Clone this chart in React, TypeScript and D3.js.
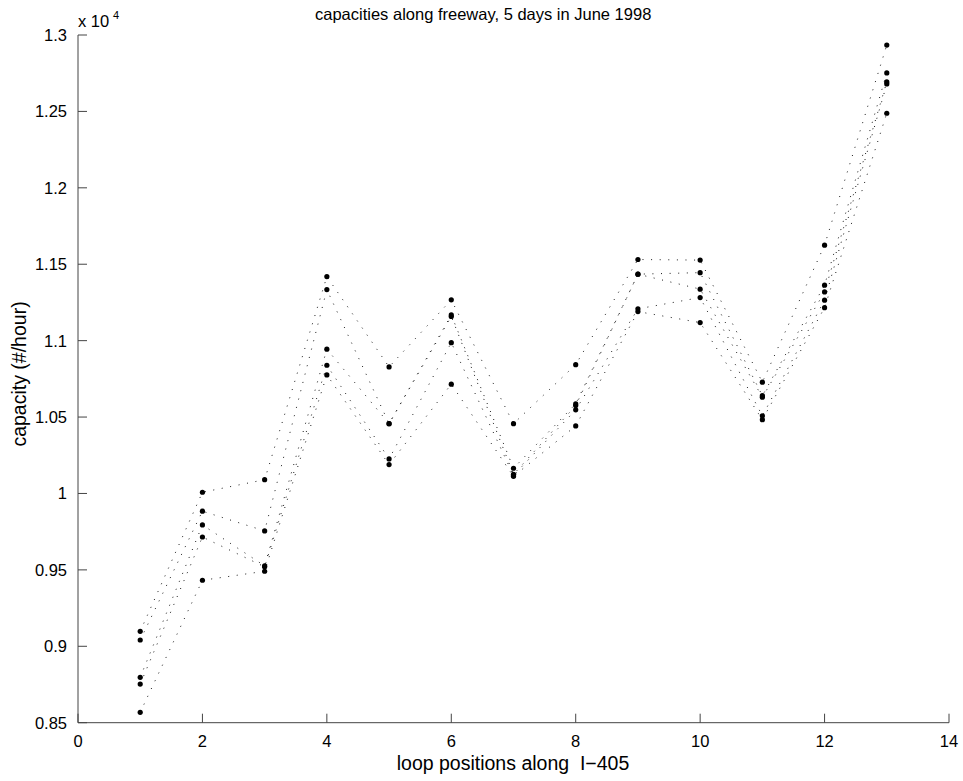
import React from "react";
import * as d3 from "d3";

const positions = [1, 2, 3, 4, 5, 6, 7, 8, 9, 10, 11, 12, 13];
const day1 = [9098, 10008, 10090, 11419, 10828, 11267, 10457, 10843, 11531, 11527, 10728, 11625, 12934];
const day2 = [9041, 9884, 9755, 11334, 10457, 11168, 10165, 10586, 11435, 11445, 10640, 11363, 12752];
const day3 = [8797, 9794, 9526, 10944, 10457, 11158, 10125, 10575, 11435, 11337, 10630, 11319, 12693];
const day4 = [8753, 9715, 9520, 10839, 10226, 10987, 10118, 10547, 11208, 11282, 10508, 11265, 12680];
const day5 = [8568, 9432, 9491, 10776, 10189, 10715, 10112, 10442, 11190, 11118, 10483, 11216, 12488];
const days = [day1, day2, day3, day4, day5];

const xTicks = [0, 2, 4, 6, 8, 10, 12, 14];
const yTicks = [8500, 9000, 9500, 10000, 10500, 11000, 11500, 12000, 12500, 13000];
const yTickLabels = ["0.85", "0.9", "0.95", "1", "1.05", "1.1", "1.15", "1.2", "1.25", "1.3"];

const titleText = "capacities along freeway, 5 days in June 1998";
const xLabel = "loop positions along  I\u2212405";
const yLabel = "capacity (#/hour)";

export default function App() {
  const W = 963;
  const H = 781;
  const left = 78, right = 949, top = 35, bottom = 722.7;
  const x = d3.scaleLinear().domain([0, 14]).range([left, right]);
  const y = d3.scaleLinear().domain([8500, 13000]).range([bottom, top]);
  const line = d3
    .line<number>()
    .x((_, i) => x(positions[i]))
    .y((d) => y(d));
  const font = "'Liberation Sans', Arial, Helvetica, sans-serif";
  const axisColor = "#444";
  const tickLen = 9;

  return (
    <svg
      width={W}
      height={H}
      style={{ position: "absolute", left: 0, top: 0, background: "#fff" }}
      fontFamily={font}
    >
      <rect x={0} y={0} width={W} height={H} fill="#fff" />
      {days.map((d, i) => (
        <path
          key={"l" + i}
          d={line(d) || ""}
          fill="none"
          stroke="#000"
          strokeWidth={0.9}
          strokeDasharray="1 7.6"
        />
      ))}
      {days.map((d, i) =>
        d.map((v, j) => (
          <circle key={`p${i}-${j}`} cx={x(positions[j])} cy={y(v)} r={2.6} fill="#000" />
        ))
      )}
      <line x1={left} y1={bottom} x2={right} y2={bottom} stroke={axisColor} strokeWidth={1} />
      <line x1={left} y1={bottom} x2={left} y2={top} stroke={axisColor} strokeWidth={1} />
      {xTicks.map((t) => (
        <g key={"xt" + t}>
          <line x1={x(t)} x2={x(t)} y1={bottom} y2={bottom - tickLen} stroke={axisColor} strokeWidth={1} />
          <text x={x(t)} y={747} fontSize={16.5} textAnchor="middle" fill="#000">
            {t}
          </text>
        </g>
      ))}
      {yTicks.map((t, i) => (
        <g key={"yt" + t}>
          <line x1={left} x2={left + tickLen} y1={y(t)} y2={y(t)} stroke={axisColor} strokeWidth={1} />
          <text x={67} y={y(t) + 6} fontSize={16.5} textAnchor="end" fill="#000">
            {yTickLabels[i]}
          </text>
        </g>
      ))}
      <text x={78} y={27} fontSize={16.5} fill="#000">
        x 10
      </text>
      <text x={113} y={19} fontSize={11} fill="#000">
        4
      </text>
      <text x={315} y={20} fontSize={16.5} fill="#000">
        {titleText}
      </text>
      <text
        x={513}
        y={770}
        fontSize={19.5}
        textAnchor="middle"
        fill="#000"
        style={{ whiteSpace: "pre" }}
      >
        {xLabel}
      </text>
      <text
        transform={`translate(26, 374) rotate(-90)`}
        fontSize={19.5}
        textAnchor="middle"
        fill="#000"
      >
        {yLabel}
      </text>
    </svg>
  );
}
